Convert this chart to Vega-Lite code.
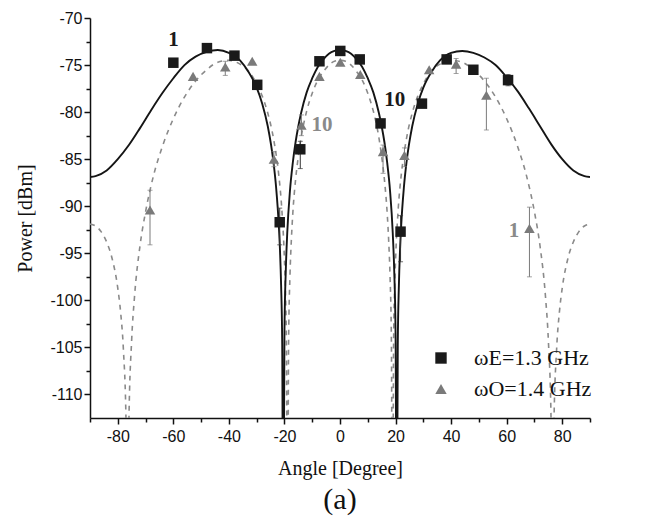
{
  "$schema": "https://vega.github.io/schema/vega-lite/v6.json",
  "autosize": {"type": "none"},
  "width": 500,
  "height": 400,
  "padding": {"left": 90, "top": 18, "right": 79, "bottom": 103},
  "background": "white",
  "config": {
    "view": {"stroke": null},
    "font": "Liberation Sans",
    "axis": {
      "grid": false,
      "domainColor": "#111",
      "domainWidth": 1.5,
      "tickColor": "#111",
      "tickWidth": 1.5,
      "labelFont": "Liberation Sans",
      "labelFontSize": 16,
      "labelColor": "#111",
      "titleFont": "Liberation Serif",
      "titleFontSize": 20,
      "titleFontWeight": "normal",
      "titleColor": "#111",
      "labelOverlap": false,
      "labelBound": false,
      "labelFlush": false
    }
  },
  "title": {"text": "(a)", "orient": "bottom", "font": "Liberation Serif", "fontSize": 30, "fontWeight": "normal", "color": "#111", "offset": 7, "anchor": "middle"},
  "datasets": {
    "solid": [
      {"angle": -90, "power": -86.9}, {"angle": -88, "power": -86.8}, {"angle": -84, "power": -86.2}, {"angle": -80, "power": -85.0},
      {"angle": -76, "power": -83.5}, {"angle": -72, "power": -81.7}, {"angle": -68, "power": -79.8}, {"angle": -64, "power": -78.0},
      {"angle": -60, "power": -76.4}, {"angle": -56, "power": -75.0}, {"angle": -52, "power": -74.1}, {"angle": -48, "power": -73.6},
      {"angle": -44, "power": -73.4}, {"angle": -40, "power": -73.7}, {"angle": -36, "power": -74.5}, {"angle": -33, "power": -75.7},
      {"angle": -30, "power": -77.4}, {"angle": -28, "power": -79.1}, {"angle": -26, "power": -81.5}, {"angle": -24, "power": -85.2},
      {"angle": -23, "power": -88.0}, {"angle": -22, "power": -92.2}, {"angle": -21.6, "power": -94.7}, {"angle": -21.2, "power": -98.4},
      {"angle": -20.8, "power": -104.7}, {"angle": -20.43, "power": -130}, {"angle": -20, "power": -103.4}, {"angle": -19.5, "power": -96.7},
      {"angle": -19, "power": -92.9}, {"angle": -18, "power": -88.3}, {"angle": -17, "power": -85.4}, {"angle": -16, "power": -83.2},
      {"angle": -15, "power": -81.5}, {"angle": -14, "power": -80.1}, {"angle": -12, "power": -77.9}, {"angle": -10, "power": -76.4},
      {"angle": -8, "power": -75.2}, {"angle": -6, "power": -74.4}, {"angle": -4, "power": -73.8}, {"angle": -2, "power": -73.5},
      {"angle": 0, "power": -73.4},
      {"angle": 2, "power": -73.5}, {"angle": 4, "power": -73.8}, {"angle": 6, "power": -74.4}, {"angle": 8, "power": -75.2},
      {"angle": 10, "power": -76.4}, {"angle": 12, "power": -77.9}, {"angle": 14, "power": -80.1}, {"angle": 15, "power": -81.5},
      {"angle": 16, "power": -83.2}, {"angle": 17, "power": -85.4}, {"angle": 18, "power": -88.3}, {"angle": 19, "power": -92.9},
      {"angle": 19.5, "power": -96.7}, {"angle": 20, "power": -103.4}, {"angle": 20.43, "power": -130}, {"angle": 20.8, "power": -104.7},
      {"angle": 21.2, "power": -98.4}, {"angle": 21.6, "power": -94.7}, {"angle": 22, "power": -92.2}, {"angle": 23, "power": -88.0},
      {"angle": 24, "power": -85.2}, {"angle": 26, "power": -81.5}, {"angle": 28, "power": -79.1}, {"angle": 30, "power": -77.4},
      {"angle": 33, "power": -75.7}, {"angle": 36, "power": -74.5}, {"angle": 40, "power": -73.7}, {"angle": 44, "power": -73.5},
      {"angle": 48, "power": -73.7}, {"angle": 52, "power": -74.2}, {"angle": 56, "power": -75.0}, {"angle": 60, "power": -76.3},
      {"angle": 64, "power": -77.8}, {"angle": 68, "power": -79.6}, {"angle": 72, "power": -81.5}, {"angle": 76, "power": -83.4},
      {"angle": 80, "power": -85.0}, {"angle": 84, "power": -86.2}, {"angle": 88, "power": -86.8}, {"angle": 90, "power": -86.9}
    ],
    "dashed": [
      {"angle": -90, "power": -91.9}, {"angle": -88, "power": -92.1}, {"angle": -86, "power": -92.7}, {"angle": -84, "power": -93.8},
      {"angle": -82, "power": -95.6}, {"angle": -80, "power": -98.7}, {"angle": -79, "power": -101.2}, {"angle": -78, "power": -105.1},
      {"angle": -77, "power": -113.3}, {"angle": -76.5, "power": -130}, {"angle": -76, "power": -113}, {"angle": -75, "power": -104.2},
      {"angle": -74, "power": -99.7}, {"angle": -72, "power": -94.2}, {"angle": -70, "power": -90.6}, {"angle": -67, "power": -86.6},
      {"angle": -64, "power": -83.7}, {"angle": -60, "power": -80.7}, {"angle": -56, "power": -78.4}, {"angle": -52, "power": -76.7},
      {"angle": -48, "power": -75.5}, {"angle": -44, "power": -74.7}, {"angle": -40, "power": -74.5}, {"angle": -36, "power": -74.9},
      {"angle": -33, "power": -75.6}, {"angle": -30, "power": -77.0}, {"angle": -28, "power": -78.3}, {"angle": -26, "power": -80.1},
      {"angle": -24, "power": -82.7}, {"angle": -23, "power": -84.5}, {"angle": -22, "power": -86.8}, {"angle": -21, "power": -90.1},
      {"angle": -20, "power": -95.7}, {"angle": -19.7, "power": -98.4}, {"angle": -19.3, "power": -104.5}, {"angle": -18.9, "power": -130},
      {"angle": -18.5, "power": -104.3}, {"angle": -18, "power": -97.3}, {"angle": -17.5, "power": -93.5}, {"angle": -17, "power": -90.8},
      {"angle": -16, "power": -87.2}, {"angle": -15, "power": -84.7}, {"angle": -14, "power": -82.7}, {"angle": -12, "power": -79.9},
      {"angle": -10, "power": -78.0}, {"angle": -8, "power": -76.6}, {"angle": -6, "power": -75.7}, {"angle": -4, "power": -75.0},
      {"angle": -2, "power": -74.6}, {"angle": 0, "power": -74.5},
      {"angle": 2, "power": -74.6}, {"angle": 4, "power": -75.0}, {"angle": 6, "power": -75.7}, {"angle": 8, "power": -76.6},
      {"angle": 10, "power": -78.0}, {"angle": 12, "power": -79.9}, {"angle": 14, "power": -82.7}, {"angle": 15, "power": -84.7},
      {"angle": 16, "power": -87.2}, {"angle": 17, "power": -90.8}, {"angle": 17.5, "power": -93.5}, {"angle": 18, "power": -97.3},
      {"angle": 18.5, "power": -104.3}, {"angle": 18.9, "power": -130}, {"angle": 19.3, "power": -104.5}, {"angle": 19.7, "power": -98.4},
      {"angle": 20, "power": -95.7}, {"angle": 21, "power": -90.1}, {"angle": 22, "power": -86.8}, {"angle": 23, "power": -84.5},
      {"angle": 24, "power": -82.7}, {"angle": 26, "power": -80.1}, {"angle": 28, "power": -78.3}, {"angle": 30, "power": -77.0},
      {"angle": 33, "power": -75.6}, {"angle": 36, "power": -74.9}, {"angle": 40, "power": -74.5}, {"angle": 44, "power": -74.7},
      {"angle": 48, "power": -75.5}, {"angle": 52, "power": -76.7}, {"angle": 56, "power": -78.4}, {"angle": 60, "power": -80.7},
      {"angle": 64, "power": -83.7}, {"angle": 67, "power": -86.6}, {"angle": 70, "power": -90.6}, {"angle": 72, "power": -94.2},
      {"angle": 74, "power": -99.7}, {"angle": 75, "power": -104.2}, {"angle": 76, "power": -113}, {"angle": 76.5, "power": -130},
      {"angle": 77, "power": -113.3}, {"angle": 78, "power": -105.1}, {"angle": 79, "power": -101.2}, {"angle": 80, "power": -98.7},
      {"angle": 82, "power": -95.6}, {"angle": 84, "power": -93.8}, {"angle": 86, "power": -92.7}, {"angle": 88, "power": -92.1},
      {"angle": 90, "power": -91.9}
    ],
    "points": [
      {"series": "ωE=1.3 GHz", "angle": -60.0, "power": -74.75},
      {"series": "ωE=1.3 GHz", "angle": -47.9, "power": -73.2},
      {"series": "ωE=1.3 GHz", "angle": -38.0, "power": -74.0},
      {"series": "ωE=1.3 GHz", "angle": -29.8, "power": -77.1},
      {"series": "ωE=1.3 GHz", "angle": -21.7, "power": -91.7, "lo": -94.1, "hi": -90.2},
      {"series": "ωE=1.3 GHz", "angle": -14.3, "power": -83.95, "lo": -86.0, "hi": -83.1},
      {"series": "ωE=1.3 GHz", "angle": -7.4, "power": -74.6},
      {"series": "ωE=1.3 GHz", "angle": 0.1, "power": -73.5},
      {"series": "ωE=1.3 GHz", "angle": 7.1, "power": -74.4},
      {"series": "ωE=1.3 GHz", "angle": 14.6, "power": -81.2},
      {"series": "ωE=1.3 GHz", "angle": 21.8, "power": -92.7, "lo": -95.9, "hi": -91.0},
      {"series": "ωE=1.3 GHz", "angle": 29.5, "power": -79.1},
      {"series": "ωE=1.3 GHz", "angle": 38.4, "power": -74.4},
      {"series": "ωE=1.3 GHz", "angle": 48.0, "power": -75.5},
      {"series": "ωE=1.3 GHz", "angle": 60.5, "power": -76.6, "lo": -77.2, "hi": -76.0},
      {"series": "ωO=1.4 GHz", "angle": -68.4, "power": -90.4, "lo": -94.1, "hi": -88.3},
      {"series": "ωO=1.4 GHz", "angle": -52.9, "power": -76.2},
      {"series": "ωO=1.4 GHz", "angle": -41.3, "power": -75.2, "lo": -76.1, "hi": -74.6},
      {"series": "ωO=1.4 GHz", "angle": -31.6, "power": -74.6},
      {"series": "ωO=1.4 GHz", "angle": -23.8, "power": -85.0, "lo": -85.8, "hi": -84.2},
      {"series": "ωO=1.4 GHz", "angle": -13.9, "power": -81.4, "lo": -82.5, "hi": -80.3},
      {"series": "ωO=1.4 GHz", "angle": -7.4, "power": -76.2},
      {"series": "ωO=1.4 GHz", "angle": 0.1, "power": -74.7},
      {"series": "ωO=1.4 GHz", "angle": 7.3, "power": -76.0},
      {"series": "ωO=1.4 GHz", "angle": 15.5, "power": -84.2, "lo": -86.5, "hi": -83.5},
      {"series": "ωO=1.4 GHz", "angle": 23.2, "power": -84.6, "lo": -85.8, "hi": -83.8},
      {"series": "ωO=1.4 GHz", "angle": 32.1, "power": -75.5},
      {"series": "ωO=1.4 GHz", "angle": 41.8, "power": -74.9, "lo": -75.9, "hi": -74.3},
      {"series": "ωO=1.4 GHz", "angle": 52.7, "power": -78.2, "lo": -81.9, "hi": -76.4},
      {"series": "ωO=1.4 GHz", "angle": 68.2, "power": -92.35, "lo": -97.5, "hi": -90.1}
    ],
    "notes": [
      {"series": "ωE=1.3 GHz", "angle": -59.9, "power": -72.3, "label": "1"},
      {"series": "ωE=1.3 GHz", "angle": 19.75, "power": -78.7, "label": "10"},
      {"series": "ωO=1.4 GHz", "angle": -6.5, "power": -81.4, "label": "10"},
      {"series": "ωO=1.4 GHz", "angle": 62.6, "power": -92.6, "label": "1"}
    ]
  },
  "encoding": {
    "x": {
      "field": "angle", "type": "quantitative",
      "scale": {"domain": [-90, 90], "nice": false, "zero": false},
      "axis": {
        "title": "Angle [Degree]",
        "values": [-90, -80, -70, -60, -50, -40, -30, -20, -10, 0, 10, 20, 30, 40, 50, 60, 70, 80, 90],
        "labelExpr": "datum.value % 20 === 0 ? '' + datum.value : ''",
        "tickSize": {"condition": {"test": "datum.value % 20 === 0", "value": 6}, "value": 4},
        "labelPadding": 4,
        "titlePadding": 14
      }
    },
    "y": {
      "field": "power", "type": "quantitative",
      "scale": {"domain": [-112.5, -70], "nice": false, "zero": false},
      "axis": {
        "title": "Power [dBm]",
        "values": [-110, -107.5, -105, -102.5, -100, -97.5, -95, -92.5, -90, -87.5, -85, -82.5, -80, -77.5, -75, -72.5, -70],
        "labelExpr": "datum.value % 5 === 0 ? '' + datum.value : ''",
        "tickSize": {"condition": {"test": "datum.value % 5 === 0", "value": 6}, "value": 4},
        "labelPadding": 2,
        "titlePadding": 14
      }
    }
  },
  "layer": [
    {
      "data": {"name": "dashed"},
      "mark": {"type": "line", "clip": true, "interpolate": "monotone", "color": "#8a8a8a", "strokeWidth": 1.6, "strokeDash": [5, 5]}
    },
    {
      "data": {"name": "solid"},
      "mark": {"type": "line", "clip": true, "interpolate": "monotone", "color": "#151515", "strokeWidth": 1.9}
    },
    {
      "data": {"name": "points"},
      "transform": [{"filter": "isValid(datum.lo) && datum.series === 'ωE=1.3 GHz'"}],
      "mark": {"type": "errorbar", "ticks": true, "thickness": 1, "color": "#333333"},
      "encoding": {
        "y": {"field": "lo", "type": "quantitative", "title": "Power [dBm]"},
        "y2": {"field": "hi"}
      }
    },
    {
      "data": {"name": "points"},
      "transform": [{"filter": "isValid(datum.lo) && datum.series === 'ωO=1.4 GHz'"}],
      "mark": {"type": "errorbar", "ticks": true, "thickness": 1, "color": "#7a7a7a"},
      "encoding": {
        "y": {"field": "lo", "type": "quantitative", "title": "Power [dBm]"},
        "y2": {"field": "hi"}
      }
    },
    {
      "data": {"name": "points"},
      "mark": {"type": "point", "filled": true, "opacity": 1, "size": 110},
      "encoding": {
        "shape": {"field": "series", "type": "nominal",
          "scale": {"domain": ["ωE=1.3 GHz", "ωO=1.4 GHz"], "range": ["square", "triangle-up"]},
          "legend": {"title": null, "orient": "none", "legendX": 340, "legendY": 329, "padding": 0,
            "labelFont": "Liberation Serif", "labelFontSize": 22, "labelColor": "#111", "symbolSize": 130,
            "labelOffset": 22, "rowPadding": 9, "symbolStrokeWidth": 0}},
        "color": {"field": "series", "type": "nominal",
          "scale": {"domain": ["ωE=1.3 GHz", "ωO=1.4 GHz"], "range": ["#1a1a1a", "#7a7a7a"]},
          "legend": {"title": null, "orient": "none", "legendX": 340, "legendY": 329, "padding": 0,
            "labelFont": "Liberation Serif", "labelFontSize": 22, "labelColor": "#111", "symbolSize": 130,
            "labelOffset": 22, "rowPadding": 9, "symbolStrokeWidth": 0}}
      }
    },
    {
      "data": {"name": "notes"},
      "transform": [{"filter": "datum.series === 'ωE=1.3 GHz'"}],
      "mark": {"type": "text", "font": "Liberation Serif", "fontSize": 21, "fontWeight": "bold", "align": "center", "baseline": "middle", "color": "#1a1a1a"},
      "encoding": {"text": {"field": "label"}}
    },
    {
      "data": {"name": "notes"},
      "transform": [{"filter": "datum.series === 'ωO=1.4 GHz'"}],
      "mark": {"type": "text", "font": "Liberation Serif", "fontSize": 21, "fontWeight": "bold", "align": "center", "baseline": "middle", "color": "#8a8a8a"},
      "encoding": {"text": {"field": "label"}}
    }
  ]
}
